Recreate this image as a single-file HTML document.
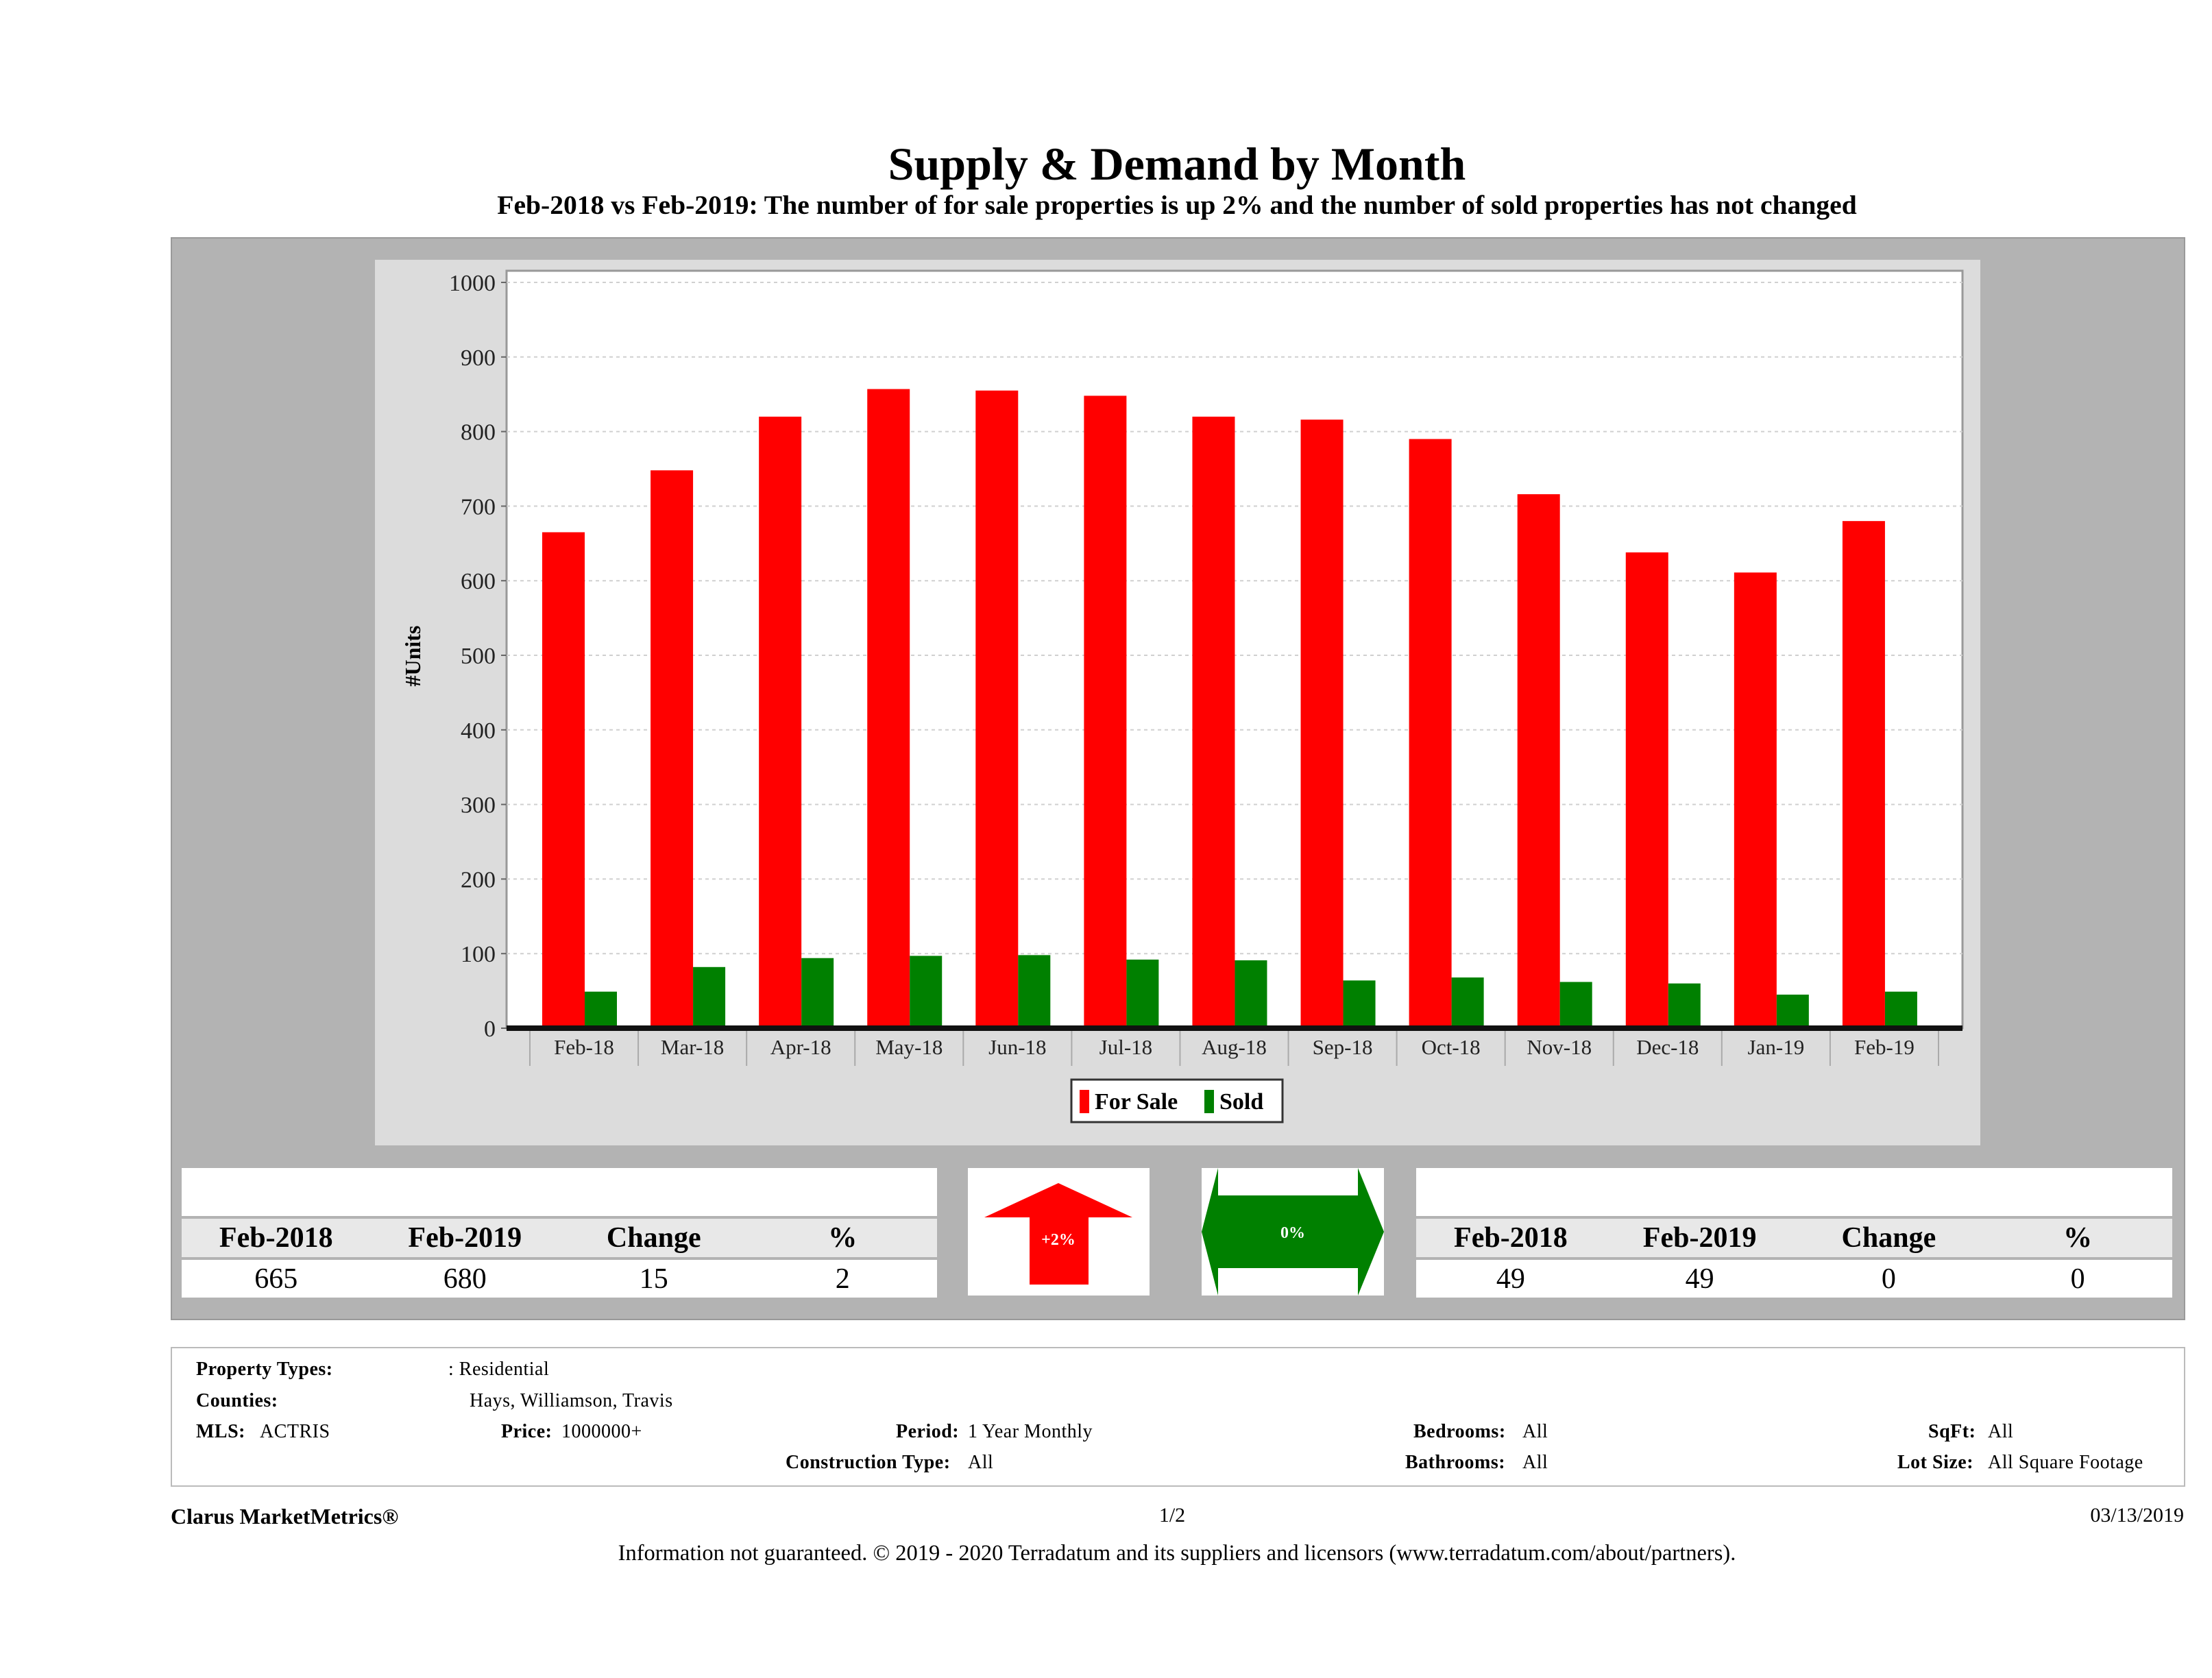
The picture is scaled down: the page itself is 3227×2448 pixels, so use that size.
<!DOCTYPE html>
<html><head><meta charset="utf-8"><style>
body{margin:0;background:#fff;}
#page{position:relative;width:3227px;height:2448px;background:#fff;font-family:"Liberation Serif",serif;color:#000;overflow:hidden;}
.abs{position:absolute;}
.t{position:absolute;white-space:nowrap;}
table.st{position:absolute;border-collapse:collapse;table-layout:fixed;}
table.st td{text-align:center;font-size:42px;padding:0;}
tr.hd td{font-weight:bold;}
.prop{font-size:28px;letter-spacing:0.5px;}
</style></head><body>
<div id="page">
<div class="t" style="left:0;width:3434px;top:200px;text-align:center;font-size:68px;font-weight:bold;">Supply &amp; Demand by Month</div>
<div class="t" style="left:0;width:3434px;top:276px;text-align:center;font-size:39.6px;font-weight:bold;">Feb-2018 vs Feb-2019: The number of for sale properties is up 2% and the number of sold properties has not changed</div>
<div class="abs" style="left:249px;top:346px;width:2935px;height:1576px;background:#b3b3b3;border:2px solid #999;"></div>
<div class="abs" style="left:547px;top:379px;width:2342px;height:1292px;background:#dcdcdc;"></div>
<svg class="abs" id="chart" style="left:0;top:0" width="3227" height="1700"></svg>

<table class="st" style="left:265px;top:1704px;width:1102px;">
<tr style="height:72px;background:#fff"><td colspan="4"></td></tr>
<tr class="hd" style="height:60px;background:#e8e8e8;border-top:4px solid #b3b3b3;"><td>Feb-2018</td><td>Feb-2019</td><td>Change</td><td>%</td></tr>
<tr style="height:57px;background:#fff;border-top:4px solid #b3b3b3;"><td>665</td><td>680</td><td>15</td><td>2</td></tr>
</table>
<div class="abs" style="left:1412px;top:1704px;width:265px;height:186px;background:#fff;">
<svg width="265" height="186"><polygon points="132,22 240,72 176,72 176,170 90,170 90,72 24,72" fill="#ff0000"/><text x="132" y="112" text-anchor="middle" fill="#fff" font-size="24" font-weight="bold" font-family="Liberation Serif">+2%</text></svg></div>
<div class="abs" style="left:1753px;top:1704px;width:266px;height:186px;background:#fff;">
<svg width="266" height="186"><polygon points="24,0 24,40 228,40 228,0 266,93 228,186 228,146 24,146 24,186 0,93" fill="#008000"/><text x="133" y="102" text-anchor="middle" fill="#fff" font-size="24" font-weight="bold" font-family="Liberation Serif">0%</text></svg></div>
<table class="st" style="left:2066px;top:1704px;width:1103px;">
<tr style="height:72px;background:#fff"><td colspan="4"></td></tr>
<tr class="hd" style="height:60px;background:#e8e8e8;border-top:4px solid #b3b3b3;"><td>Feb-2018</td><td>Feb-2019</td><td>Change</td><td>%</td></tr>
<tr style="height:57px;background:#fff;border-top:4px solid #b3b3b3;"><td>49</td><td>49</td><td>0</td><td>0</td></tr>
</table>

<div class="abs" style="left:249px;top:1965px;width:2935px;height:200px;border:2px solid #bbb;"></div>
<div class="prop">
<div class="t" style="left:286px;top:1982px;font-weight:bold">Property Types:</div><div class="t" style="left:654px;top:1982px">: Residential</div>
<div class="t" style="left:286px;top:2028px;font-weight:bold">Counties:</div><div class="t" style="left:685px;top:2028px">Hays, Williamson, Travis</div>
<div class="t" style="left:286px;top:2073px;font-weight:bold">MLS:</div><div class="t" style="left:379px;top:2073px">ACTRIS</div>
<div class="t" style="left:731px;top:2073px;font-weight:bold">Price:</div><div class="t" style="left:819px;top:2073px">1000000+</div>
<div class="t" style="left:1307px;top:2073px;font-weight:bold">Period:</div><div class="t" style="left:1412px;top:2073px">1 Year Monthly</div>
<div class="t" style="left:1146px;top:2118px;font-weight:bold">Construction Type:</div><div class="t" style="left:1412px;top:2118px">All</div>
<div class="t" style="left:2062px;top:2073px;font-weight:bold">Bedrooms:</div><div class="t" style="left:2221px;top:2073px">All</div>
<div class="t" style="left:2050px;top:2118px;font-weight:bold">Bathrooms:</div><div class="t" style="left:2221px;top:2118px">All</div>
<div class="t" style="left:2813px;top:2073px;font-weight:bold">SqFt:</div><div class="t" style="left:2900px;top:2073px">All</div>
<div class="t" style="left:2768px;top:2118px;font-weight:bold">Lot Size:</div><div class="t" style="left:2900px;top:2118px">All Square Footage</div>
</div>
<div class="t" style="left:249px;top:2194px;font-size:32px;font-weight:bold">Clarus MarketMetrics®</div>
<div class="t" style="left:1660px;width:100px;text-align:center;top:2194px;font-size:30px">1/2</div>
<div class="t" style="right:41px;top:2194px;font-size:30px">03/13/2019</div>
<div class="t" style="left:0;width:3434px;text-align:center;top:2248px;font-size:32.5px">Information not guaranteed. © 2019 - 2020 Terradatum and its suppliers and licensors (www.terradatum.com/about/partners).</div>
</div>
<script>
const categories=["Feb-18","Mar-18","Apr-18","May-18","Jun-18","Jul-18","Aug-18","Sep-18","Oct-18","Nov-18","Dec-18","Jan-19","Feb-19"];
const forSale=[665,748,820,857,855,848,820,816,790,716,638,611,680];
const sold=[49,82,94,97,98,92,91,64,68,62,60,45,49];
const yTicks=[0,100,200,300,400,500,600,700,800,900,1000];
const NS="http://www.w3.org/2000/svg";
const svg=document.getElementById('chart');
const PL=739,PR=2863,PT=395,Y0=1500,Y1=412,CX0=773,CX1=2828;
const y=v=>Y0-(v/1000)*(Y0-Y1);
const band=(CX1-CX0)/categories.length;
const x=i=>CX0+i*band;
function mk(tag,attrs){const e=document.createElementNS(NS,tag);for(const k in attrs)e.setAttribute(k,attrs[k]);svg.appendChild(e);return e;}
let pa=mk('rect',{x:PL,y:PT,width:PR-PL,height:Y0-PT,fill:'#fff',stroke:'#999','stroke-width':3});


yTicks.forEach(t=>{
  let g=mk('line',{x1:PL,x2:PR,y1:y(t),y2:y(t),stroke:'#d0d0d0','stroke-width':2,'stroke-dasharray':'5,5'});
  
  
  mk('line',{x1:PL-8,x2:PL,y1:y(t),y2:y(t),stroke:'#666','stroke-width':2});
  let l=mk('text',{x:PL-16,y:y(t)+12,'text-anchor':'end','font-size':34,'font-family':'Liberation Serif',fill:'#222'});
  l.textContent=t;
  
  
});
categories.forEach((c,i)=>{
  let r=mk('rect',{x:x(i)+18,y:y(forSale[i]),width:62,height:Y0-y(forSale[i]),fill:'#ff0000'});
  
  
  let g=mk('rect',{x:x(i)+80,y:y(sold[i]),width:47,height:Y0-y(sold[i]),fill:'#008000'});
  
  
  mk('line',{x1:x(i),x2:x(i),y1:Y0,y2:Y0+55,stroke:'#aaa','stroke-width':2});
  let l=mk('text',{x:x(i)+band/2,y:Y0+38,'text-anchor':'middle','font-size':31,'font-family':'Liberation Serif',fill:'#222'});
  l.textContent=c;
  
  
});
mk('line',{x1:CX1,x2:CX1,y1:Y0,y2:Y0+55,stroke:'#aaa','stroke-width':2});
let ax=mk('line',{x1:PL,x2:PR,y1:Y0,y2:Y0,stroke:'#111','stroke-width':8});


let yt=mk('text',{x:0,y:0,transform:'translate(613,957) rotate(-90)','text-anchor':'middle','font-size':32,'font-weight':'bold','font-family':'Liberation Serif'});
yt.textContent='#Units';


let lg=mk('rect',{x:1563,y:1575,width:308,height:62,fill:'#fff',stroke:'#333','stroke-width':3});


mk('rect',{x:1575,y:1590,width:14,height:34,fill:'#ff0000'});
let t1=mk('text',{x:1597,y:1618,'font-size':34,'font-weight':'bold','font-family':'Liberation Serif'});t1.textContent='For Sale';


mk('rect',{x:1757,y:1590,width:14,height:34,fill:'#008000'});
let t2=mk('text',{x:1779,y:1618,'font-size':34,'font-weight':'bold','font-family':'Liberation Serif'});t2.textContent='Sold';


</script>
</body></html>
